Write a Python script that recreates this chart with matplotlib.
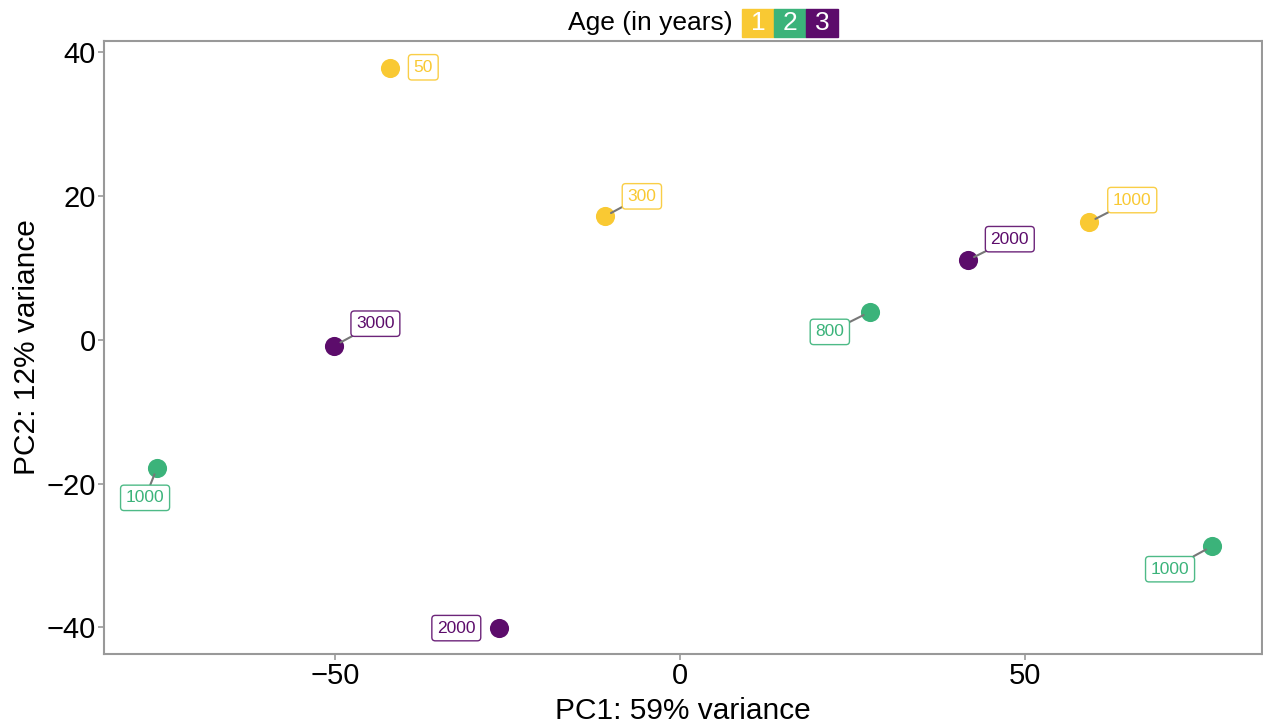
import matplotlib.pyplot as plt
from matplotlib.patches import Rectangle

plt.rcParams['font.family'] = ['Liberation Sans', 'DejaVu Sans']

# PCA scores
pc1 = [-42.0, -10.9, 59.3, 41.7, 27.5, -50.1, -75.8, 77.1, -26.2]
pc2 = [37.8, 17.2, 16.4, 11.1, 3.9, -0.8, -17.8, -28.7, -40.1]
age_group = [1, 1, 1, 3, 2, 3, 2, 2, 3]
sample_label = ['50', '300', '1000', '2000', '800', '3000', '1000', '1000', '2000']

group_names = ['1', '2', '3']
COLORS = {1: '#F9C933', 2: '#3BB37A', 3: '#5C0C6B'}

# label placement (pixel offsets from the point), and whether a segment is drawn
label_offsets = [(33, 1), (37, 20), (43, 22), (42, 21), (-40, -20),
                 (41, 22), (-12, -30), (-42, -23), (-43, 0)]
draw_segment = [False, True, True, True, True, True, True, True, False]

fig = plt.figure(figsize=(12.63, 7.24), dpi=100)
ax = fig.add_axes([0.0823, 0.0967, 0.9167, 0.8467])

for x, y, g, lab, off, seg in zip(pc1, pc2, age_group, sample_label, label_offsets, draw_segment):
    c = COLORS[g]
    ax.scatter(x, y, s=190, color=c, zorder=3, linewidths=0)
    arrow = dict(arrowstyle='-', color='#777777', lw=1.5, shrinkA=0, shrinkB=5) if seg else None
    ax.annotate(lab, xy=(x, y), xytext=off, textcoords='offset pixels',
                ha='center', va='center', fontsize=12.5, color=c,
                bbox=dict(boxstyle='round,pad=0.3,rounding_size=0.2', fc='white',
                          ec=c, lw=1.0, alpha=0.9),
                arrowprops=arrow, zorder=4)

ax.set_xlim(-83.5, 84.3)
ax.set_ylim(-43.7, 41.6)
ax.set_xticks([-50, 0, 50])
ax.set_yticks([-40, -20, 0, 20, 40])
ax.tick_params(labelsize=21, length=4, width=1.2, color='#999999', pad=2)
for sp in ax.spines.values():
    sp.set_color('#999999')
    sp.set_linewidth(1.5)
ax.set_xlabel('PC1: 59% variance', fontsize=21.5, labelpad=5)
ax.set_ylabel('PC2: 12% variance', fontsize=21.5, labelpad=4)

# legend drawn at top as a colour strip
fig.text(733 / 1263, 1 - 23 / 724, 'Age (in years)', fontsize=19, ha='right', va='center')
w = 32 / 1263
h = 28 / 724
x0 = 742 / 1263
y0 = 1 - 37 / 724
for i, name in enumerate(group_names):
    fig.patches.append(Rectangle((x0 + i * w, y0), w, h, transform=fig.transFigure,
                                 color=COLORS[i + 1], zorder=1))
    fig.text(x0 + (i + 0.5) * w, y0 + h / 2, name, fontsize=19, color='white',
             ha='center', va='center')

plt.savefig('out.png', dpi=100)
